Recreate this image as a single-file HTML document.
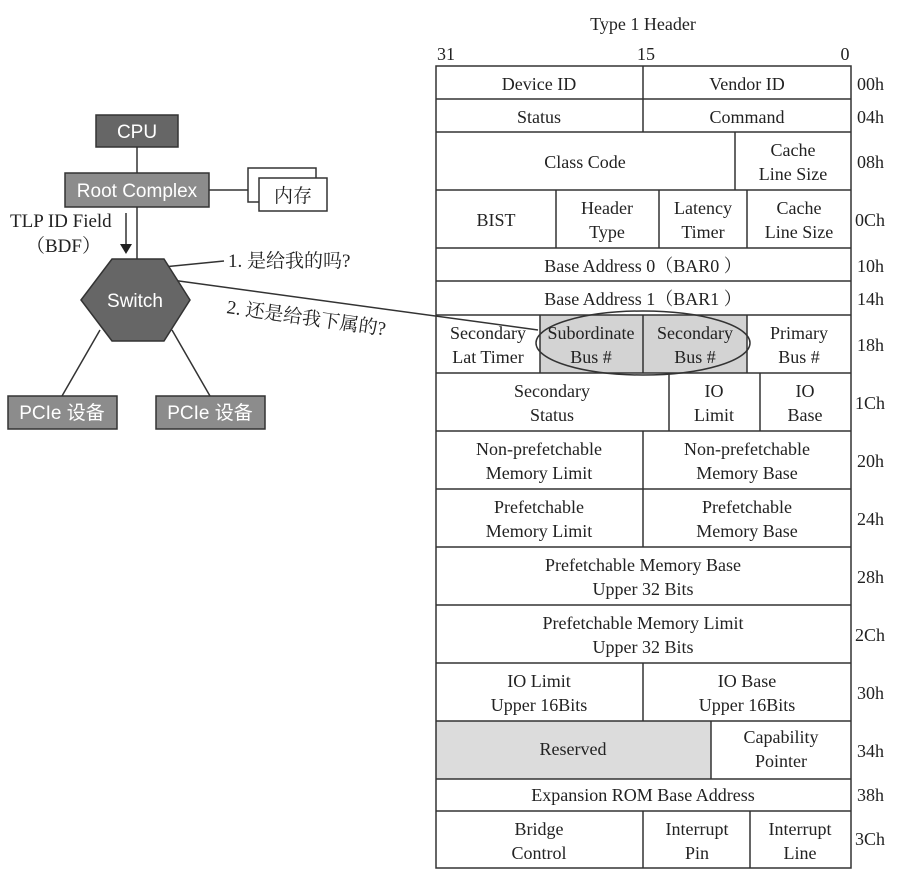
<!DOCTYPE html>
<html><head><meta charset="utf-8"><style>
html,body{margin:0;padding:0;background:#fff;}
svg{display:block}
.t{font-family:"Liberation Serif","Noto Serif CJK SC",serif;font-size:18px;fill:#222;text-anchor:middle}
.s{font-family:"Liberation Sans","Noto Sans CJK SC",sans-serif;font-size:19px;fill:#fff;text-anchor:middle}
.c{font-family:"Liberation Serif","Noto Serif CJK SC",serif;font-size:18px;fill:#222}
.l{font-family:"Liberation Serif","Noto Serif CJK SC",serif;font-size:19px;fill:#222}
</style></head><body>
<svg width="900" height="874" viewBox="0 0 900 874" xmlns="http://www.w3.org/2000/svg">
<g stroke="#333" stroke-width="1.5" fill="none">
<line x1="137" y1="147" x2="137" y2="173"/>
<line x1="137" y1="207" x2="137" y2="260"/>
<line x1="209" y1="190" x2="248" y2="190"/>
<line x1="100" y1="330" x2="62" y2="396"/>
<line x1="172" y1="330" x2="210" y2="396"/>
<line x1="126" y1="213" x2="126" y2="248"/>
<line x1="153" y1="268" x2="224" y2="261"/>
<line x1="157" y1="278" x2="538" y2="330"/>
</g>
<polygon points="120,244 132,244 126,254" fill="#222"/>
<rect x="96" y="115" width="82" height="32" fill="#666" stroke="#333" stroke-width="1.5"/>
<text class="s" x="137" y="138">CPU</text>
<rect x="65" y="173" width="144" height="34" fill="#8c8c8c" stroke="#333" stroke-width="1.5"/>
<text class="s" x="137" y="197">Root Complex</text>
<rect x="248" y="168" width="68" height="34" fill="#fff" stroke="#333" stroke-width="1.5"/>
<rect x="259" y="178" width="68" height="33" fill="#fff" stroke="#333" stroke-width="1.5"/>
<text class="l" x="274" y="202">内存</text>
<text class="l" x="10" y="227">TLP ID Field</text>
<text class="l" x="26" y="252">（BDF）</text>
<polygon points="81,300 112,259 164,259 190,300 164,341 112,341" fill="#666" stroke="#333" stroke-width="1.5"/>
<text class="s" x="135" y="307">Switch</text>
<rect x="8" y="396" width="109" height="33" fill="#8c8c8c" stroke="#333" stroke-width="1.5"/>
<text class="s" x="62" y="419">PCIe 设备</text>
<rect x="156" y="396" width="109" height="33" fill="#8c8c8c" stroke="#333" stroke-width="1.5"/>
<text class="s" x="210" y="419">PCIe 设备</text>
<text class="l" x="228" y="267">1. 是给我的吗?</text>
<text class="l" x="226" y="313" transform="rotate(8 226 313)">2. 还是给我下属的?</text>

<text class="t" x="643" y="30">Type 1 Header</text>
<text class="t" x="446" y="60">31</text>
<text class="t" x="646" y="60">15</text>
<text class="t" x="845" y="60">0</text>
<rect x="540" y="315" width="207" height="58" fill="#d3d3d3"/>
<rect x="436" y="721" width="275" height="58" fill="#dcdcdc"/>
<g stroke="#333" stroke-width="1.5" fill="none">
<rect x="436" y="66" width="415" height="802"/>
<path d="M436 99H851M436 132H851M436 190H851M436 248H851M436 281H851M436 315H851M436 373H851M436 431H851M436 489H851M436 547H851M436 605H851M436 663H851M436 721H851M436 779H851M436 811H851"/>
<path d="M643 66V132M735 132V190M556 190V248M659 190V248M747 190V248M540 315V373M643 315V373M747 315V373M669 373V431M760 373V431M643 431V547M643 663V721M711 721V779M643 811V868M750 811V868"/>
<ellipse cx="643" cy="343" rx="107" ry="32"/>
</g>
<g>
<text class="t" x="539" y="90">Device ID</text>
<text class="t" x="747" y="90">Vendor ID</text>
<text class="t" x="539" y="123">Status</text>
<text class="t" x="747" y="123">Command</text>
<text class="t" x="585" y="168">Class Code</text>
<text class="t" x="793" y="156">Cache</text><text class="t" x="793" y="180">Line Size</text>
<text class="t" x="496" y="226">BIST</text>
<text class="t" x="607" y="214">Header</text><text class="t" x="607" y="238">Type</text>
<text class="t" x="703" y="214">Latency</text><text class="t" x="703" y="238">Timer</text>
<text class="t" x="799" y="214">Cache</text><text class="t" x="799" y="238">Line Size</text>
<text class="t" x="643" y="272">Base Address 0（BAR0 ）</text>
<text class="t" x="643" y="305">Base Address 1（BAR1 ）</text>
<text class="t" x="488" y="339">Secondary</text><text class="t" x="488" y="363">Lat Timer</text>
<text class="t" x="591" y="339">Subordinate</text><text class="t" x="591" y="363">Bus #</text>
<text class="t" x="695" y="339">Secondary</text><text class="t" x="695" y="363">Bus #</text>
<text class="t" x="799" y="339">Primary</text><text class="t" x="799" y="363">Bus #</text>
<text class="t" x="552" y="397">Secondary</text><text class="t" x="552" y="421">Status</text>
<text class="t" x="714" y="397">IO</text><text class="t" x="714" y="421">Limit</text>
<text class="t" x="805" y="397">IO</text><text class="t" x="805" y="421">Base</text>
<text class="t" x="539" y="455">Non-prefetchable</text><text class="t" x="539" y="479">Memory Limit</text>
<text class="t" x="747" y="455">Non-prefetchable</text><text class="t" x="747" y="479">Memory Base</text>
<text class="t" x="539" y="513">Prefetchable</text><text class="t" x="539" y="537">Memory Limit</text>
<text class="t" x="747" y="513">Prefetchable</text><text class="t" x="747" y="537">Memory Base</text>
<text class="t" x="643" y="571">Prefetchable Memory Base</text><text class="t" x="643" y="595">Upper 32 Bits</text>
<text class="t" x="643" y="629">Prefetchable Memory Limit</text><text class="t" x="643" y="653">Upper 32 Bits</text>
<text class="t" x="539" y="687">IO Limit</text><text class="t" x="539" y="711">Upper 16Bits</text>
<text class="t" x="747" y="687">IO Base</text><text class="t" x="747" y="711">Upper 16Bits</text>
<text class="t" x="573" y="755">Reserved</text>
<text class="t" x="781" y="743">Capability</text><text class="t" x="781" y="767">Pointer</text>
<text class="t" x="643" y="801">Expansion ROM Base Address</text>
<text class="t" x="539" y="835">Bridge</text><text class="t" x="539" y="859">Control</text>
<text class="t" x="697" y="835">Interrupt</text><text class="t" x="697" y="859">Pin</text>
<text class="t" x="800" y="835">Interrupt</text><text class="t" x="800" y="859">Line</text>
</g>
<g>
<text class="c" x="857" y="90">00h</text>
<text class="c" x="857" y="123">04h</text>
<text class="c" x="857" y="168">08h</text>
<text class="c" x="855" y="226">0Ch</text>
<text class="c" x="857" y="272">10h</text>
<text class="c" x="857" y="305">14h</text>
<text class="c" x="857" y="351">18h</text>
<text class="c" x="855" y="409">1Ch</text>
<text class="c" x="857" y="467">20h</text>
<text class="c" x="857" y="525">24h</text>
<text class="c" x="857" y="583">28h</text>
<text class="c" x="855" y="641">2Ch</text>
<text class="c" x="857" y="699">30h</text>
<text class="c" x="857" y="757">34h</text>
<text class="c" x="857" y="801">38h</text>
<text class="c" x="855" y="845">3Ch</text>
</g>
</svg>
</body></html>
